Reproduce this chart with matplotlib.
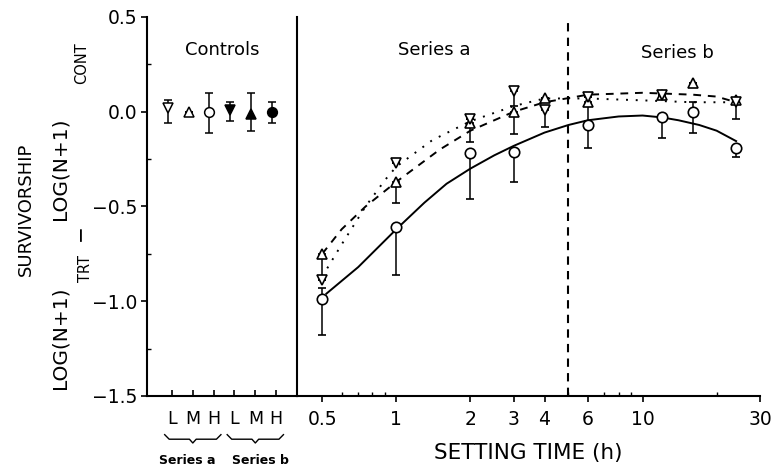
import numpy as np
import matplotlib
matplotlib.use('Agg')
import matplotlib.pyplot as plt
from matplotlib.ticker import FixedLocator, FixedFormatter, NullFormatter

plt.rcParams['font.family'] = ['DejaVu Sans']

# controls (left panel)
ctrl_labels = ['L', 'M', 'H', 'L', 'M', 'H']
ctrl_groups = ['Series a', 'Series b']
ctrl_mean = [0.02, 0.0, 0.0, 0.01, -0.01, 0.0]
ctrl_err_lo = [0.08, 0.0, 0.11, 0.06, 0.09, 0.06]
ctrl_err_hi = [0.04, 0.0, 0.10, 0.04, 0.11, 0.05]
ctrl_markers = ['v', '^', 'o', 'v', '^', 'o']
ctrl_filled = [False, False, False, True, True, True]

# treatments (right panel), setting time in h
low_t = [0.5, 1, 2, 3, 4, 6, 12, 24]
low_y = [-0.89, -0.27, -0.04, 0.11, 0.01, 0.08, 0.09, 0.05]
low_lo = [0.0, 0.0, 0.0, 0.08, 0.09, 0.0, 0.0, 0.09]

med_t = [0.5, 1, 2, 3, 4, 6, 12, 16, 24]
med_y = [-0.75, -0.37, -0.06, 0.0, 0.07, 0.05, 0.09, 0.15, 0.06]
med_lo = [0.12, 0.11, 0.10, 0.12, 0.0, 0.10, 0.0, 0.0, 0.0]

high_t = [0.5, 1, 2, 3, 6, 12, 16, 24]
high_y = [-0.99, -0.61, -0.22, -0.21, -0.07, -0.03, 0.0, -0.19]
high_lo = [0.19, 0.25, 0.24, 0.16, 0.12, 0.11, 0.11, 0.05]
high_hi = [0.06, 0.0, 0.0, 0.0, 0.0, 0.0, 0.05, 0.0]

# fitted curves
fit_low_t = [0.5, 0.6, 0.75, 0.9, 1.0, 1.4, 2.0, 3.0, 4.0, 6.0, 10.0, 16.0, 24.0]
fit_low_y = [-0.87, -0.70, -0.50, -0.36, -0.29, -0.15, -0.05, 0.03, 0.07, 0.07, 0.06, 0.05, 0.05]
fit_med_t = [0.5, 0.6, 0.75, 1.0, 1.5, 2.0, 3.0, 4.0, 6.0, 10.0, 16.0, 20.0, 24.0]
fit_med_y = [-0.75, -0.62, -0.50, -0.37, -0.20, -0.10, 0.0, 0.05, 0.09, 0.10, 0.09, 0.08, 0.05]
fit_high_t = [0.52, 0.7, 1.0, 1.3, 1.6, 2.0, 2.5, 3.0, 4.0, 5.0, 6.0, 8.0, 10.0, 12.0, 14.0, 17.0, 20.0, 24.0]
fit_high_y = [-0.96, -0.82, -0.62, -0.48, -0.38, -0.30, -0.23, -0.18, -0.11, -0.07, -0.045, -0.025, -0.02, -0.03,
              -0.045, -0.07, -0.10, -0.155]

x_major = [0.5, 1, 2, 3, 4, 6, 10, 30]
x_major_lbl = ['0.5', '1', '2', '3', '4', '6', '10', '30']
x_minor = [0.6, 0.7, 0.8, 0.9, 5, 7, 8, 9, 20]
split_t = 5.0

fig = plt.figure(figsize=(7.83, 4.73), dpi=100)
ax1 = fig.add_axes([0.1877, 0.1628, 0.1916, 0.8013])
ax2 = fig.add_axes([0.3793, 0.1628, 0.5913, 0.8013])

for ax in (ax1, ax2):
    ax.set_ylim(-1.5, 0.5)
    ax.spines['top'].set_visible(False)
    ax.spines['right'].set_visible(False)
    ax.spines['left'].set_linewidth(1.5)
    ax.spines['bottom'].set_linewidth(1.5)

ebkw = dict(color='k', elinewidth=1.1, capsize=3, capthick=1.1, linestyle='none')

# left panel
pos = np.arange(len(ctrl_labels))
for i in range(len(pos)):
    fc = 'k' if ctrl_filled[i] else 'white'
    ax1.errorbar(pos[i] - 0.2, ctrl_mean[i], yerr=[[ctrl_err_lo[i]], [ctrl_err_hi[i]]],
                 marker=ctrl_markers[i], ms=7, mfc=fc, mec='k', mew=1.1, **ebkw)
ax1.set_xlim(-1.2, 6.0)
ax1.set_xticks(pos)
ax1.set_xticklabels(ctrl_labels, fontsize=12.5)
ax1.tick_params(axis='x', direction='in', length=4, width=1.2, pad=10)
ax1.set_yticks([-1.5, -1.0, -0.5, 0.0, 0.5])
ax1.yaxis.set_minor_locator(FixedLocator([-1.25, -0.75, -0.25, 0.25]))
ax1.tick_params(axis='y', which='major', direction='out', length=4, width=1.2, labelsize=13.5, pad=3)
ax1.tick_params(axis='y', which='minor', direction='in', length=3, width=1.0)
ax1.text(0.5, 0.913, 'Controls', transform=ax1.transAxes, ha='center', va='center', fontsize=13)

# braces under L M H groups
tr = ax1.get_xaxis_transform()
for g, name in enumerate(ctrl_groups):
    x0 = pos[3 * g] - 0.35
    x1 = pos[3 * g + 2] + 0.35
    xm = 0.5 * (x0 + x1)
    w = x1 - x0
    bx = [x0, x0 + 0.08 * w, xm - 0.06 * w, xm, xm + 0.06 * w, x1 - 0.08 * w, x1]
    by = [-0.102, -0.114, -0.114, -0.124, -0.114, -0.114, -0.102]
    ax1.plot(bx, by, color='k', lw=1.0, transform=tr, clip_on=False)
    ax1.text(xm + (g - 0.5) * 0.5, -0.17, name, transform=tr, ha='center', va='center',
             fontsize=9, fontweight='bold')

# right panel
ax2.set_xscale('log')
ax2.set_xlim(0.395, 30)
ax2.plot(fit_high_t, fit_high_y, color='k', lw=1.4)
ax2.plot(fit_med_t, fit_med_y, color='k', lw=1.4, ls=(0, (4, 3.5)))
ax2.plot(fit_low_t, fit_low_y, color='k', lw=1.4, ls=(0, (1, 4)))
ax2.errorbar(high_t, high_y, yerr=[high_lo, high_hi], marker='o', ms=7.5,
             mfc='white', mec='k', mew=1.2, **ebkw)
ax2.errorbar(med_t, med_y, yerr=[med_lo, np.zeros(len(med_lo))], marker='^', ms=7,
             mfc='white', mec='k', mew=1.2, **ebkw)
ax2.errorbar(low_t, low_y, yerr=[low_lo, np.zeros(len(low_lo))], marker='v', ms=7,
             mfc='white', mec='k', mew=1.2, **ebkw)
ax2.axvline(split_t, color='k', lw=1.5, ls=(0, (4, 3)))

ax2.xaxis.set_major_locator(FixedLocator(x_major))
ax2.xaxis.set_major_formatter(FixedFormatter(x_major_lbl))
ax2.xaxis.set_minor_locator(FixedLocator(x_minor))
ax2.xaxis.set_minor_formatter(NullFormatter())
ax2.tick_params(axis='x', which='major', direction='out', length=4, width=1.2, labelsize=13.5, pad=6)
ax2.tick_params(axis='x', which='minor', direction='in', length=3, width=1.0)
ax2.tick_params(axis='y', left=False, labelleft=False, which='both')
ax2.text(0.296, 0.913, 'Series a', transform=ax2.transAxes, ha='center', va='center', fontsize=13)
ax2.text(0.821, 0.905, 'Series b', transform=ax2.transAxes, ha='center', va='center', fontsize=13)
ax2.set_xlabel('SETTING TIME (h)', fontsize=15.5, labelpad=10)

# y label pieces
fig.text(26 / 783, 1 - 209 / 473, 'SURVIVORSHIP', rotation=90, ha='center', va='center', fontsize=13)
fig.text(60 / 783, 1 - 338 / 473, 'LOG(N+1)', rotation=90, ha='center', va='center', fontsize=14.5)
fig.text(85 / 783, 1 - 269 / 473, 'TRT', rotation=90, ha='center', va='center', fontsize=10.5)
fig.text(80 / 783, 1 - 233 / 473, '\u2212', rotation=90, ha='center', va='center', fontsize=14.5)
fig.text(60 / 783, 1 - 169 / 473, 'LOG(N+1)', rotation=90, ha='center', va='center', fontsize=14.5)
fig.text(82 / 783, 1 - 63 / 473, 'CONT', rotation=90, ha='center', va='center', fontsize=10.5)

fig.savefig('out.png', dpi=100)
